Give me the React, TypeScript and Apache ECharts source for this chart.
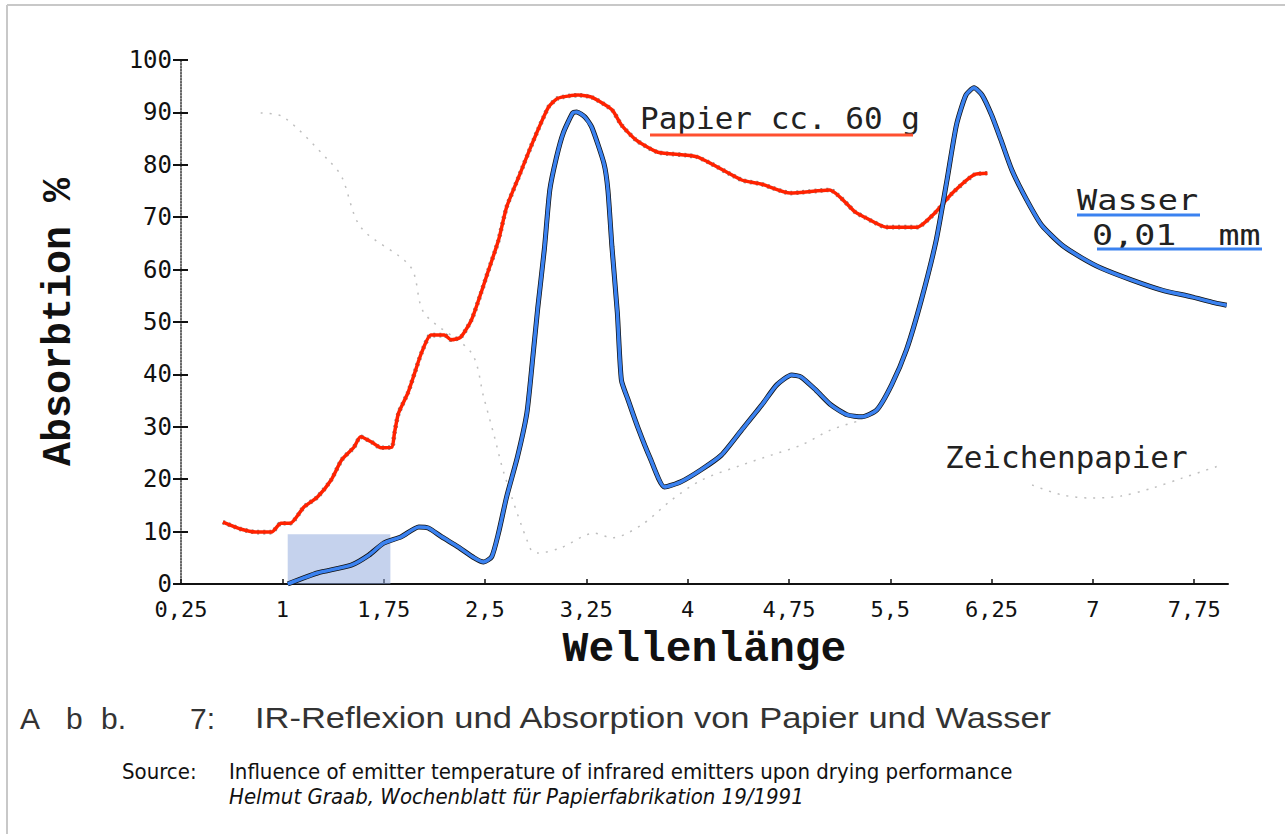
import React, { useEffect, useRef } from "react";
import * as echarts from "echarts";

// Tick values
const X_TICKS = [0.25, 1, 1.75, 2.5, 3.25, 4, 4.75, 5.5, 6.25, 7, 7.75];

// Papier cc. 60 g (red)
const PAPIER_X = [0.56, 0.69, 0.81, 0.92, 0.99, 1.06, 1.16, 1.26, 1.36, 1.44, 1.53, 1.58, 1.66, 1.73, 1.81, 1.83, 1.86, 1.93, 1.98, 2.03, 2.1, 2.2, 2.25, 2.32, 2.4, 2.47, 2.52, 2.6, 2.66, 2.75, 2.86, 2.97, 3.04, 3.19, 3.29, 3.44, 3.51, 3.62, 3.78, 4.07, 4.4, 4.55, 4.76, 5.05, 5.24, 5.31, 5.47, 5.7, 5.83, 5.96, 6.12, 6.22];
const PAPIER_Y = [11.8, 10.5, 9.9, 9.9, 11.6, 11.6, 14.7, 16.6, 19.8, 23.7, 26.1, 28.1, 27.1, 26.0, 26.1, 28.8, 32.6, 36.5, 40.3, 44.1, 47.5, 47.5, 46.6, 47.1, 50.4, 55.5, 59.4, 65.6, 71.9, 77.7, 84.7, 91.0, 92.7, 93.3, 92.9, 90.5, 87.6, 84.7, 82.4, 81.5, 77.1, 76.3, 74.6, 75.2, 71.0, 70.0, 68.1, 68.1, 70.8, 74.6, 78.1, 78.4];

// Wasser 0,01 mm (blue)
const WASSER_X = [1.04, 1.26, 1.51, 1.64, 1.75, 1.88, 2.01, 2.08, 2.18, 2.3, 2.42, 2.49, 2.55, 2.6, 2.66, 2.74, 2.81, 2.85, 2.89, 2.94, 2.98, 3.03, 3.08, 3.15, 3.18, 3.24, 3.29, 3.38, 3.41, 3.44, 3.48, 3.51, 3.56, 3.63, 3.72, 3.83, 3.95, 4.1, 4.25, 4.4, 4.55, 4.66, 4.77, 4.84, 4.95, 5.06, 5.18, 5.29, 5.4, 5.51, 5.62, 5.73, 5.84, 5.92, 5.99, 6.06, 6.12, 6.18, 6.25, 6.32, 6.4, 6.51, 6.62, 6.77, 6.92, 7.06, 7.29, 7.51, 7.73, 7.88, 7.99];
const WASSER_Y = [0, 2.1, 3.6, 5.5, 7.8, 9.0, 10.9, 10.7, 9.0, 7.1, 5.0, 4.2, 5.2, 9.7, 16.6, 24.2, 32.6, 42.2, 52.5, 64.0, 75.2, 81.5, 86.1, 89.9, 90.1, 89.1, 87.2, 80.3, 75.2, 64.3, 51.7, 38.9, 35.1, 30.0, 24.2, 18.5, 19.5, 21.8, 24.6, 29.4, 34.2, 38.0, 39.9, 39.5, 37.0, 34.2, 32.3, 31.9, 33.2, 38.0, 44.7, 54.2, 65.6, 77.1, 87.6, 93.3, 94.7, 93.3, 89.5, 84.7, 79.0, 73.3, 68.5, 64.7, 62.2, 60.3, 58.0, 56.1, 54.8, 53.8, 53.2];

// Zeichenpapier (faint dotted)
const ZEICHEN_X = [0.84, 1.01, 1.34, 1.44, 1.58, 1.95, 2.05, 2.4, 2.49, 2.57, 2.64, 2.84, 2.89, 3.06, 3.31, 3.44, 3.66, 3.88, 4.1, 4.4, 4.62, 4.84, 5.06, 5.29, 5.9, 6.55, 6.77, 6.99, 7.21, 7.44, 7.66, 7.95];
const ZEICHEN_Y = [89.9, 89.1, 80.9, 77.7, 68.1, 60.5, 51.7, 44.1, 35.7, 28.1, 21.2, 6.5, 5.9, 6.9, 9.7, 8.8, 11.3, 16.0, 19.8, 22.7, 24.6, 26.5, 29.4, 31.3, null, 18.9, 17.0, 16.4, 16.8, 18.3, 20.2, 22.7];

// Highlighted band
const BAND_X = [1.04, 1.8];
const BAND_Y = [0, 9.5];

const pairs = (xs: number[], ys: (number | null)[]) => xs.map((x, i) => [x, ys[i]]);

const MONO = "'DejaVu Sans Mono', monospace";
const TYPE = "'Liberation Mono', 'DejaVu Sans Mono', monospace";
const NARROW = "'Liberation Sans Narrow', 'DejaVu Sans Condensed', sans-serif";
const CAP = "'Liberation Sans', sans-serif";

export default function App() {
  const ref = useRef<HTMLDivElement>(null);
  useEffect(() => {
    if (!ref.current) return;
    const chart = echarts.init(ref.current, undefined, { renderer: "svg" });
    const capText = (text: string, x: number) => ({
      type: "text",
      x,
      y: 718,
      style: { text, fontFamily: CAP, fontSize: 30, fill: "#333", textVerticalAlign: "middle" },
    });
    chart.setOption({
      animation: false,
      backgroundColor: "#ffffff",
      grid: { left: 181, top: 60, right: 57, bottom: 250 },
      xAxis: {
        type: "value",
        min: 0.25,
        max: 8,
        axisLine: { lineStyle: { color: "#111", width: 2 } },
        axisTick: { show: true, inside: true, length: 5, customValues: X_TICKS, lineStyle: { color: "#111", width: 1.5 } },
        axisLabel: {
          customValues: X_TICKS,
          formatter: (v: number) => String(v).replace(".", ","),
          fontFamily: MONO,
          fontSize: 22,
          color: "#111",
          margin: 14,
        },
        splitLine: { show: false },
        name: "Wellenlänge",
        nameLocation: "middle",
        nameGap: 44,
        nameTextStyle: { fontFamily: TYPE, fontWeight: "bold", fontSize: 43, color: "#111" },
      },
      yAxis: [
        {
          type: "value",
          min: 0,
          max: 100,
          interval: 10,
          axisLine: { show: true, lineStyle: { type: "dotted", width: 1.5, color: "#333" } },
          axisTick: { show: true, length: 8, lineStyle: { width: 2, color: "#111" } },
          axisLabel: { fontFamily: MONO, fontSize: 24, color: "#111", margin: 9 },
          splitLine: { show: false },
          name: "Absorbtion %",
          nameLocation: "middle",
          nameGap: 102,
          nameTextStyle: { fontFamily: TYPE, fontWeight: "bold", fontSize: 40, color: "#111" },
        },
        {
          type: "value",
          min: 0,
          max: 100,
          interval: 10,
          position: "left",
          axisLine: { show: false },
          axisTick: { show: true, inside: true, length: 7, lineStyle: { width: 2, color: "#111" } },
          axisLabel: { show: false },
          splitLine: { show: false },
        },
      ],
      series: [
        {
          type: "line",
          name: "Zeichenpapier",
          data: pairs(ZEICHEN_X, ZEICHEN_Y),
          showSymbol: false,
          smooth: 0.3,
          connectNulls: false,
          lineStyle: { color: "#888", width: 1.5, type: [2, 7], opacity: 0.55 },
          z: 1,
        },
        {
          type: "line",
          name: "Papier shadow",
          data: pairs(PAPIER_X, PAPIER_Y),
          showSymbol: false,
          smooth: 0.2,
          lineStyle: { color: "#333", width: 4.6, type: [2, 4], opacity: 0.6 },
          z: 2,
        },
        {
          type: "line",
          name: "Papier cc. 60 g",
          data: pairs(PAPIER_X, PAPIER_Y),
          showSymbol: false,
          smooth: 0.2,
          lineStyle: { color: "#ff2200", width: 3.5 },
          z: 3,
        },
        {
          type: "line",
          name: "Wasser shadow",
          data: pairs(WASSER_X, WASSER_Y),
          showSymbol: false,
          smooth: 0.2,
          lineStyle: { color: "#111", width: 5 },
          z: 4,
          markArea: {
            silent: true,
            itemStyle: { color: "rgba(140,165,220,0.5)" },
            data: [[{ coord: [BAND_X[0], BAND_Y[0]] }, { coord: [BAND_X[1], BAND_Y[1]] }]],
          },
        },
        {
          type: "line",
          name: "Wasser 0,01 mm",
          data: pairs(WASSER_X, WASSER_Y),
          showSymbol: false,
          smooth: 0.2,
          lineStyle: { color: "#3b82f0", width: 3.5 },
          z: 5,
        },
      ],
      graphic: [
        { type: "line", shape: { x1: 7, y1: 5, x2: 1285, y2: 5 }, style: { stroke: "#c8c8c8", lineWidth: 2 } },
        { type: "line", shape: { x1: 7, y1: 5, x2: 7, y2: 834 }, style: { stroke: "#c8c8c8", lineWidth: 2 } },
        { type: "text", x: 640, y: 118, style: { text: "Papier cc. 60 g", fontFamily: MONO, fontSize: 31, fill: "#222", textVerticalAlign: "middle" } },
        { type: "line", shape: { x1: 650, y1: 135, x2: 913, y2: 135 }, style: { stroke: "#ff5030", lineWidth: 3 } },
        { type: "text", x: 1077, y: 200, scaleX: 1.2, style: { text: "Wasser", fontFamily: MONO, fontSize: 28, fill: "#222", textVerticalAlign: "middle" } },
        { type: "line", shape: { x1: 1077, y1: 215, x2: 1200, y2: 215 }, style: { stroke: "#3b82f0", lineWidth: 3 } },
        { type: "text", x: 1092, y: 235, scaleX: 1.25, style: { text: "0,01  mm", fontFamily: MONO, fontSize: 28, fill: "#222", textVerticalAlign: "middle" } },
        { type: "line", shape: { x1: 1097, y1: 249, x2: 1262, y2: 249 }, style: { stroke: "#3b82f0", lineWidth: 3 } },
        { type: "text", x: 945, y: 457, style: { text: "Zeichenpapier", fontFamily: MONO, fontSize: 31, fill: "#222", textVerticalAlign: "middle" } },
        capText("A", 20),
        capText("b", 66),
        capText("b.", 101),
        capText("7:", 190),
        { type: "text", x: 255, y: 718, scaleX: 1.15, style: { text: "IR-Reflexion und Absorption von Papier und Wasser", fontFamily: CAP, fontSize: 30, fill: "#333", textVerticalAlign: "middle" } },
        { type: "text", x: 122, y: 771, style: { text: "Source:", fontFamily: NARROW, fontSize: 22, fill: "#111", textVerticalAlign: "middle" } },
        { type: "text", x: 229, y: 771, style: { text: "Influence of emitter temperature of infrared emitters upon drying performance", fontFamily: NARROW, fontSize: 22, fill: "#111", textVerticalAlign: "middle" } },
        { type: "text", x: 229, y: 796, style: { text: "Helmut Graab, Wochenblatt für Papierfabrikation 19/1991", fontFamily: NARROW, fontStyle: "italic", fontSize: 22, fill: "#111", textVerticalAlign: "middle" } },
      ],
    });
    return () => chart.dispose();
  }, []);
  return <div ref={ref} style={{ position: "fixed", left: 0, top: 0, width: 1285, height: 834, background: "#fff" }} />;
}
